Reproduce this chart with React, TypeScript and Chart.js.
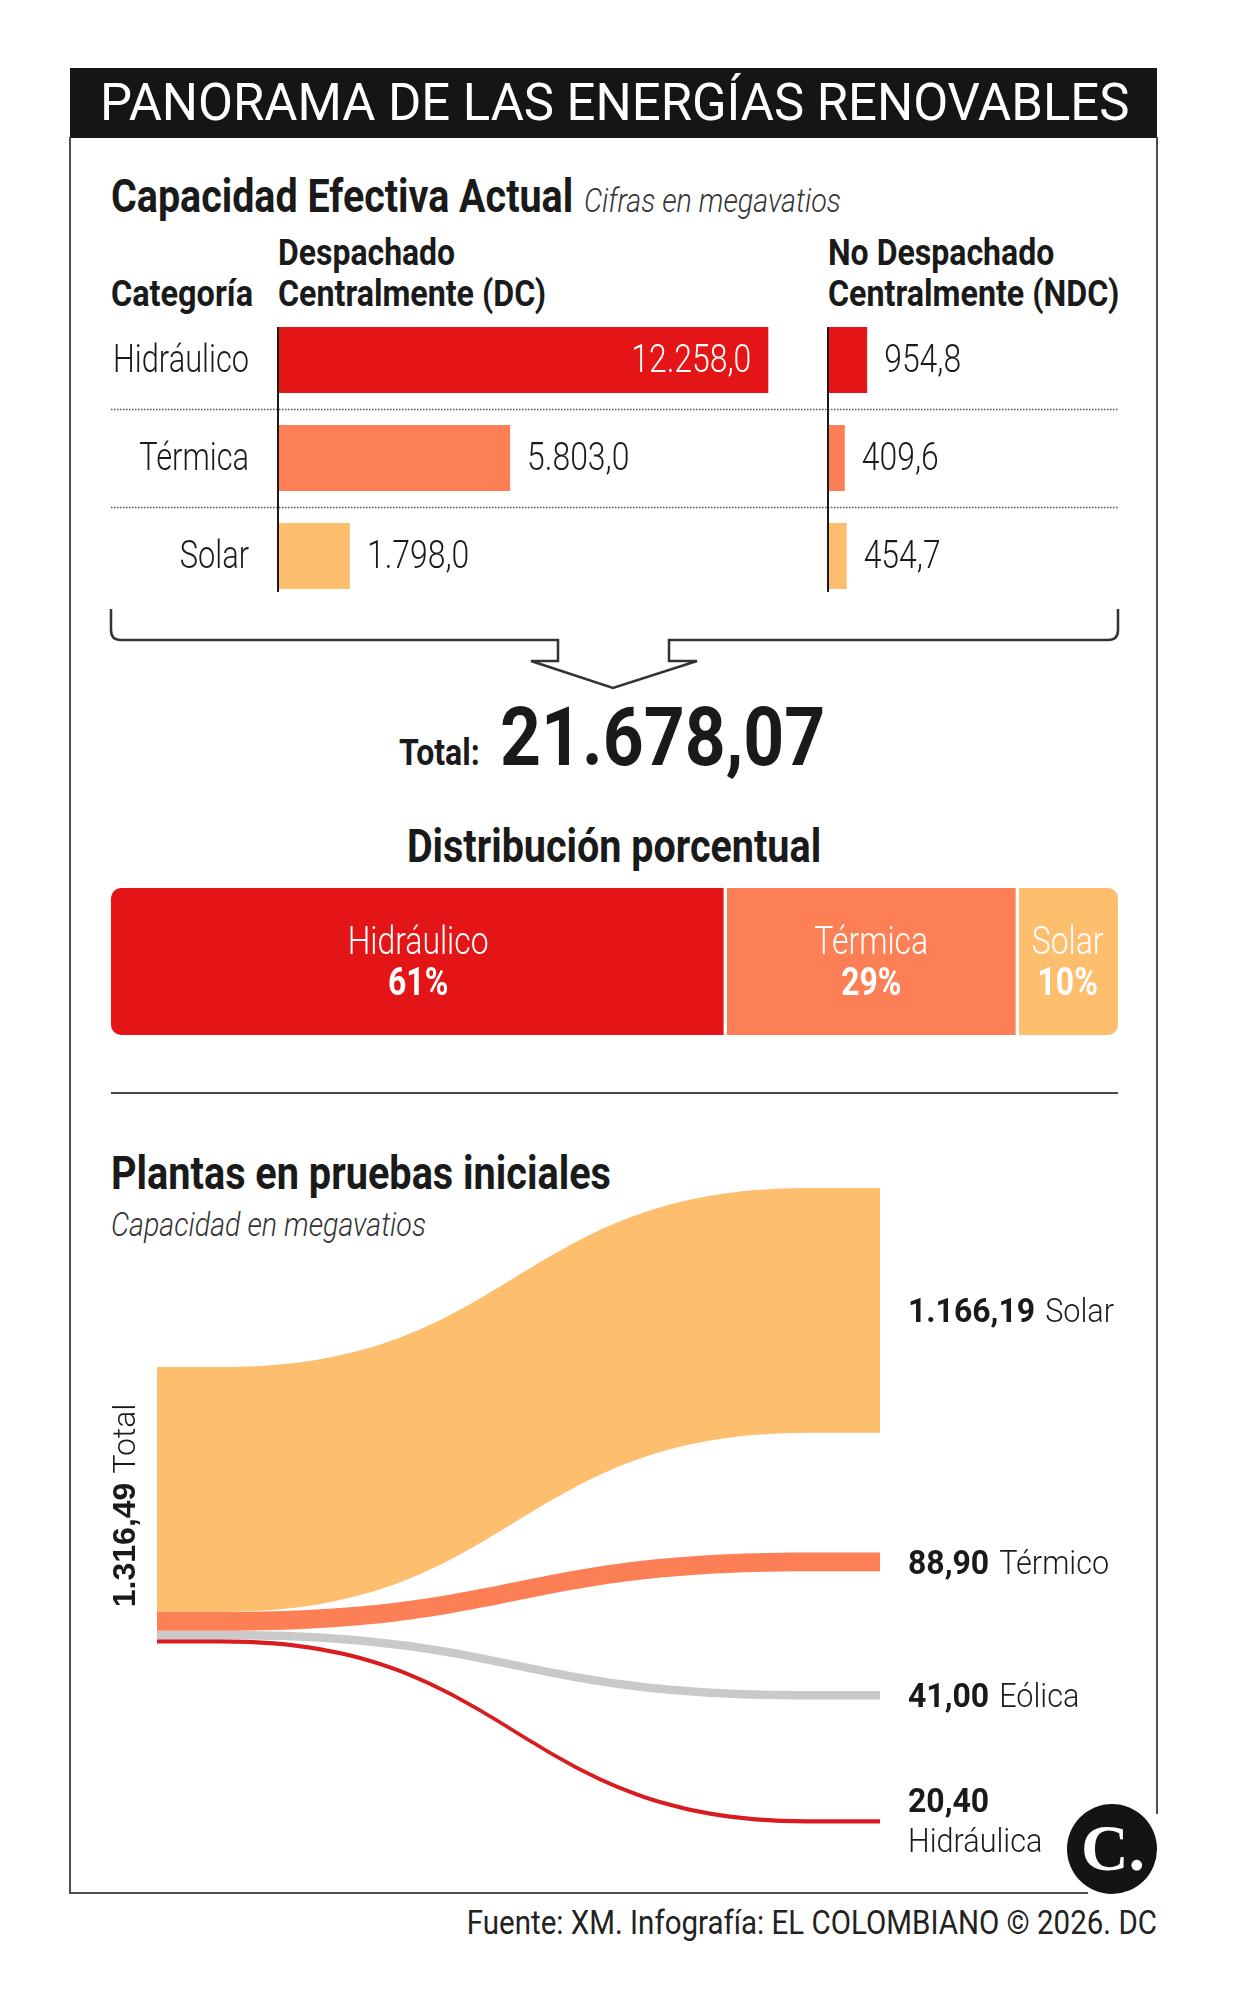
import React, { useEffect, useLayoutEffect, useRef, useState } from 'react';
import { Chart, registerables } from 'chart.js';

Chart.register(...registerables);

// Capacidad efectiva actual, en megavatios
const categories = ['Hidráulico', 'Térmica', 'Solar'];
const dispatchedMW = [12258.0, 5803.0, 1798.0];
const nonDispatchedMW = [954.8, 409.6, 454.7];
const totalCapacityMW = 21678.07;

// Distribución porcentual
const shareLabels = ['Hidráulico', 'Térmica', 'Solar'];
const sharePct = [61, 29, 10];

// Plantas en pruebas iniciales, en megavatios
const testPlantLabels = ['Solar', 'Térmico', 'Eólica', 'Hidráulica'];
const testPlantMW = [1166.19, 88.9, 41.0, 20.4];

// colours and type
const INK = '#1a1a1a';
const RED = '#E41516';
const CORAL = '#FD7F56';
const SAND = '#FDBE6E';
const GREY = '#C9C9C9';
const capacityColors = [RED, CORAL, SAND];
const flowColors = [SAND, CORAL, GREY, '#DA1B1F'];
const SANS = 'Roboto, "Liberation Sans", sans-serif';
const font = (weight: number, size: number) => `${weight} ${size}px ${SANS}`;

// flow layout: x in percent of the flow width, y in MW units down the column
const FLOW_X = [0, 9, 90, 100];
const SOURCE_TOP = 1010;
const TARGET_TOP = 157;
const TARGET_GAP = 570;
const FLOW_Y_MAX = 3400;

function fmtNum(v: number, decimals: number): string {
  const [i, d] = v.toFixed(decimals).split('.');
  const grouped = i.replace(/\B(?=(\d{3})+(?!\d))/g, '.');
  return d ? `${grouped},${d}` : grouped;
}

// draws horizontally condensed text, returns drawn width
function squeeze(
  ctx: CanvasRenderingContext2D,
  text: string,
  x: number,
  y: number,
  f: string,
  align: 'left' | 'right' | 'center',
  sx: number,
  color: string
): number {
  ctx.save();
  ctx.font = f;
  ctx.fillStyle = color;
  ctx.textAlign = 'left';
  ctx.textBaseline = 'alphabetic';
  const w = ctx.measureText(text).width * sx;
  const left = align === 'left' ? x : align === 'right' ? x - w : x - w / 2;
  ctx.translate(left, y);
  ctx.scale(sx, 1);
  ctx.fillText(text, 0, 0);
  ctx.restore();
  return w;
}

const capacityDecor = (showCategories: boolean) => ({
  id: 'capacityDecor',
  afterDatasetsDraw(chart: any) {
    const { ctx, chartArea } = chart;
    const bars = chart.getDatasetMeta(0).data as any[];
    const values = chart.data.datasets[0].data as number[];
    const left = chartArea.left;
    const first = bars[0];
    const last = bars[bars.length - 1];
    ctx.save();
    ctx.strokeStyle = INK;
    ctx.lineWidth = 2;
    ctx.beginPath();
    ctx.moveTo(left, first.y - first.height / 2);
    ctx.lineTo(left, last.y + last.height / 2 + 3);
    ctx.stroke();
    ctx.restore();
    const size = 38;
    bars.forEach((bar, i) => {
      const base = bar.y - 1 + 0.355 * size;
      const label = fmtNum(values[i], 1);
      const long = bar.x - left > chartArea.width * 0.6;
      if (long) squeeze(ctx, label, bar.x - 17, base, font(300, size), 'right', 0.84, '#fff');
      else squeeze(ctx, label, bar.x + 17, base, font(300, size), 'left', 0.84, INK);
      if (showCategories) {
        squeeze(ctx, String(chart.data.labels[i]), left - 29, base, font(300, size), 'right', 0.81, INK);
      }
    });
  },
});

type CapacityProps = {
  values: number[];
  x: number;
  y: number;
  w: number;
  h: number;
  padLeft: number;
  max: number;
  showCategories: boolean;
};

function CapacityChart({ values, x, y, w, h, padLeft, max, showCategories }: CapacityProps) {
  const ref = useRef<HTMLCanvasElement>(null);
  useEffect(() => {
    const chart = new Chart(ref.current!, {
      type: 'bar',
      data: {
        labels: categories,
        datasets: [
          {
            data: values,
            backgroundColor: capacityColors,
            borderWidth: 0,
            barPercentage: 0.673,
            categoryPercentage: 1,
          },
        ],
      },
      options: {
        indexAxis: 'y',
        responsive: false,
        animation: false,
        devicePixelRatio: 1,
        layout: { padding: { left: padLeft, right: 0, top: 0, bottom: 0 } },
        scales: {
          x: { display: false, min: 0, max },
          y: { display: false },
        },
        plugins: { legend: { display: false }, tooltip: { enabled: false } },
      },
      plugins: [capacityDecor(showCategories)],
    } as any);
    return () => chart.destroy();
  }, []);
  return (
    <canvas ref={ref} width={w} height={h} style={{ position: 'absolute', left: x, top: y, width: w, height: h }} />
  );
}

const shareLabelsPlugin = {
  id: 'shareLabels',
  afterDatasetsDraw(chart: any) {
    const { ctx } = chart;
    const size = 38;
    chart.data.datasets.forEach((ds: any, i: number) => {
      const bar = chart.getDatasetMeta(i).data[0] as any;
      const cx = (bar.x + bar.base) / 2;
      squeeze(ctx, ds.label, cx, bar.y - 21 + 0.355 * size, font(300, size), 'center', 0.84, '#fff');
      squeeze(ctx, `${ds.data[0]}%`, cx, bar.y + 20 + 0.355 * size, font(700, size), 'center', 0.84, '#fff');
    });
  },
};

function ShareChart() {
  const ref = useRef<HTMLCanvasElement>(null);
  useEffect(() => {
    const lastIdx = sharePct.length - 1;
    const chart = new Chart(ref.current!, {
      type: 'bar',
      data: {
        labels: [''],
        datasets: sharePct.map((v, i) => ({
          label: shareLabels[i],
          data: [v],
          backgroundColor: capacityColors[i],
          borderColor: '#fff',
          borderSkipped: false,
          borderWidth: { left: i === 0 ? 0 : 2, right: i === lastIdx ? 0 : 2, top: 0, bottom: 0 },
          borderRadius: {
            topLeft: i === 0 ? 10 : 0,
            bottomLeft: i === 0 ? 10 : 0,
            topRight: i === lastIdx ? 10 : 0,
            bottomRight: i === lastIdx ? 10 : 0,
          },
          barPercentage: 1,
          categoryPercentage: 1,
        })),
      },
      options: {
        indexAxis: 'y',
        responsive: false,
        animation: false,
        devicePixelRatio: 1,
        layout: { padding: 0 },
        scales: {
          x: { stacked: true, display: false, min: 0, max: 100 },
          y: { stacked: true, display: false },
        },
        plugins: { legend: { display: false }, tooltip: { enabled: false } },
      },
      plugins: [shareLabelsPlugin],
    } as any);
    return () => chart.destroy();
  }, []);
  return (
    <canvas ref={ref} width={1007} height={147} style={{ position: 'absolute', left: 111, top: 888, width: 1007, height: 147 }} />
  );
}

// link shape: horizontal tangents with control handles at the middle of each link
const linkCurvePlugin = {
  id: 'linkCurve',
  beforeDatasetsDraw(chart: any) {
    const area = chart.chartArea;
    chart.getSortedVisibleDatasetMetas().forEach((meta: any) => {
      meta.dataset.updateControlPoints(area, 'x');
      const pts = meta.data as any[];
      const a = pts[1];
      const b = pts[2];
      const mid = (a.x + b.x) / 2;
      a.cp2x = mid;
      a.cp2y = a.y;
      b.cp1x = mid;
      b.cp1y = b.y;
    });
  },
};

const flowLabelsPlugin = {
  id: 'flowLabels',
  afterDatasetsDraw(chart: any) {
    const { ctx, chartArea, scales } = chart;
    const ys = scales.y;
    const size = 34;
    const x = chartArea.right + 28;
    let tgt = TARGET_TOP;
    testPlantMW.forEach((v, i) => {
      const cy = ys.getPixelForValue(tgt + v / 2);
      tgt += v + TARGET_GAP;
      const num = fmtNum(v, 2);
      const name = testPlantLabels[i];
      if (i === testPlantMW.length - 1) {
        squeeze(ctx, num, x, cy - 21 + 0.355 * size, font(700, size), 'left', 0.94, INK);
        squeeze(ctx, name, x, cy + 19 + 0.355 * size, font(300, size), 'left', 0.9, INK);
      } else {
        const w = squeeze(ctx, num, x, cy + 0.355 * size, font(700, size), 'left', 0.94, INK);
        squeeze(ctx, name, x + w + 10, cy + 0.355 * size, font(300, size), 'left', 0.9, INK);
      }
    });

    // column total, written upwards beside the source node
    const total = testPlantMW.reduce((a, b) => a + b, 0);
    const top = ys.getPixelForValue(SOURCE_TOP);
    const bottom = ys.getPixelForValue(SOURCE_TOP + total);
    const tsize = 32;
    const numText = fmtNum(total, 2);
    ctx.save();
    ctx.translate(chartArea.left - 33, (top + bottom) / 2);
    ctx.rotate(-Math.PI / 2);
    ctx.font = `700 ${tsize}px "Liberation Sans", Arial, sans-serif`;
    const w1 = ctx.measureText(numText).width;
    ctx.font = font(300, tsize);
    const w2 = ctx.measureText('Total').width;
    const gap = 9;
    const start = -(w1 + gap + w2) / 2;
    const base = 0.358 * tsize;
    ctx.fillStyle = INK;
    ctx.textBaseline = 'alphabetic';
    ctx.textAlign = 'left';
    ctx.font = `700 ${tsize}px "Liberation Sans", Arial, sans-serif`;
    ctx.fillText(numText, start, base);
    ctx.font = font(300, tsize);
    ctx.fillText('Total', start + w1 + gap, base);
    ctx.restore();
  },
};

function FlowChart() {
  const ref = useRef<HTMLCanvasElement>(null);
  useEffect(() => {
    const edge = (a: number, b: number) => [
      { x: FLOW_X[0], y: a },
      { x: FLOW_X[1], y: a },
      { x: FLOW_X[2], y: b },
      { x: FLOW_X[3], y: b },
    ];
    const lineStyle = {
      borderWidth: 0,
      borderColor: 'rgba(0,0,0,0)',
      pointRadius: 0,
      cubicInterpolationMode: 'monotone',
    };
    const datasets: any[] = [];
    let src = SOURCE_TOP;
    let tgt = TARGET_TOP;
    testPlantMW.forEach((v, i) => {
      datasets.push({ label: `${testPlantLabels[i]} top`, data: edge(src, tgt), fill: false, ...lineStyle });
      datasets.push({
        label: testPlantLabels[i],
        data: edge(src + v, tgt + v),
        fill: '-1',
        backgroundColor: flowColors[i],
        ...lineStyle,
      });
      src += v;
      tgt += v + TARGET_GAP;
    });
    const chart = new Chart(ref.current!, {
      type: 'line',
      data: { datasets },
      options: {
        responsive: false,
        animation: false,
        devicePixelRatio: 1,
        layout: { padding: { left: 57, right: 280, top: 5, bottom: 5 } },
        scales: {
          x: { type: 'linear', display: false, min: 0, max: 100 },
          y: { type: 'linear', display: false, min: 0, max: FLOW_Y_MAX, reverse: true },
        },
        plugins: { legend: { display: false }, tooltip: { enabled: false } },
      },
      plugins: [linkCurvePlugin, flowLabelsPlugin],
    } as any);
    return () => chart.destroy();
  }, []);
  return (
    <canvas ref={ref} width={1060} height={724} style={{ position: 'absolute', left: 100, top: 1150, width: 1060, height: 724 }} />
  );
}

type TextProps = {
  x: number;
  y: number;
  size: number;
  w?: number;
  weight?: number;
  italic?: boolean;
  color?: string;
  anchor?: 'start' | 'middle' | 'end';
  children: React.ReactNode;
};

// HTML text placed by its baseline and squeezed to a set width
function Text({ x, y, size, w, weight = 400, italic = false, color = INK, anchor = 'start', children }: TextProps) {
  const ref = useRef<HTMLSpanElement>(null);
  const [sx, setSx] = useState(1);
  useLayoutEffect(() => {
    const measure = () => {
      if (ref.current && w) setSx(w / ref.current.offsetWidth);
    };
    measure();
    (document as any).fonts?.ready?.then(measure);
  }, [w]);
  const shift = anchor === 'start' ? '0%' : anchor === 'middle' ? '-50%' : '-100%';
  const origin = anchor === 'start' ? 'left' : anchor === 'middle' ? 'center' : 'right';
  return (
    <span
      ref={ref}
      style={{
        position: 'absolute',
        left: x,
        top: y - 0.84 * size,
        fontFamily: SANS,
        fontSize: size,
        fontWeight: weight,
        fontStyle: italic ? 'italic' : 'normal',
        color,
        lineHeight: 1,
        whiteSpace: 'nowrap',
        transform: `translateX(${shift}) scaleX(${sx})`,
        transformOrigin: `${origin} 0`,
      }}
    >
      {children}
    </span>
  );
}

function Frame() {
  const bracket =
    'M111,609 L111,630 Q111,640 121,640 L558,640 L558,661 L531,661 L613,688 L697,661 L669,661 L669,640 L1108,640 Q1118,640 1118,630 L1118,609';
  return (
    <svg width={1235} height={2000} style={{ position: 'absolute', left: 0, top: 0 }}>
      <rect x={70} y={68} width={1087} height={70} fill="#151515" />
      <g stroke="#4d4d4d" strokeWidth={2} fill="none">
        <line x1={70} y1={137} x2={70} y2={1894} />
        <line x1={1157} y1={137} x2={1157} y2={1814} />
        <line x1={69} y1={1893} x2={1088} y2={1893} />
      </g>
      <g stroke="#555" strokeWidth={1.5} strokeDasharray="1.5 1.5">
        <line x1={111} y1={409.5} x2={1118} y2={409.5} />
        <line x1={111} y1={507.5} x2={1118} y2={507.5} />
      </g>
      <path d={bracket} stroke="#333" strokeWidth={2.5} fill="none" strokeLinejoin="miter" />
      <line x1={111} y1={1093} x2={1118} y2={1093} stroke="#4a4a4a" strokeWidth={2} />
      <circle cx={1112} cy={1849} r={45} fill="#141414" />
      <text
        x={1113}
        y={1870}
        fill="#fff"
        fontFamily='"Liberation Serif", "DejaVu Serif", serif'
        fontWeight={700}
        fontSize={66}
        textAnchor="middle"
      >
        C.
      </text>
    </svg>
  );
}

export default function App() {
  return (
    <div
      style={{
        position: 'absolute',
        left: 0,
        top: 0,
        width: 1235,
        height: 2000,
        background: '#fff',
        overflow: 'hidden',
        fontFamily: SANS,
      }}
    >
      <Frame />
      <Text x={100} y={121} size={52} w={1029} color="#fff">
        PANORAMA DE LAS ENERGÍAS RENOVABLES
      </Text>

      <Text x={111} y={212} size={46} w={462} weight={700}>
        Capacidad Efectiva Actual
      </Text>
      <Text x={584} y={212} size={34} w={257} weight={300} italic color="#333">
        Cifras en megavatios
      </Text>
      <Text x={278} y={265} size={37} w={177} weight={700}>
        Despachado
      </Text>
      <Text x={278} y={306} size={37} w={268} weight={700}>
        Centralmente (DC)
      </Text>
      <Text x={111} y={306} size={37} w={142} weight={700}>
        Categoría
      </Text>
      <Text x={828} y={265} size={37} w={226} weight={700}>
        No Despachado
      </Text>
      <Text x={828} y={306} size={37} w={291} weight={700}>
        Centralmente (NDC)
      </Text>

      <CapacityChart values={dispatchedMW} x={100} y={311} w={698} h={294} padLeft={178} max={13000} showCategories />
      <CapacityChart values={nonDispatchedMW} x={808} y={311} w={340} h={294} padLeft={20} max={7800} showCategories={false} />

      <Text x={399} y={765} size={36} w={81} weight={700}>
        Total:
      </Text>
      <Text x={500} y={765} size={82} w={325} weight={700}>
        {fmtNum(totalCapacityMW, 2)}
      </Text>

      <Text x={614} y={862} size={46} w={414} weight={700} anchor="middle">
        Distribución porcentual
      </Text>
      <ShareChart />

      <Text x={111} y={1189} size={46} w={500} weight={700}>
        Plantas en pruebas iniciales
      </Text>
      <Text x={111} y={1236} size={34} w={315} weight={300} italic color="#333">
        Capacidad en megavatios
      </Text>
      <FlowChart />

      <Text x={1157} y={1934} size={33} w={690} anchor="end" color="#222">
        Fuente: XM. Infografía: EL COLOMBIANO © 2026. DC
      </Text>
    </div>
  );
}
